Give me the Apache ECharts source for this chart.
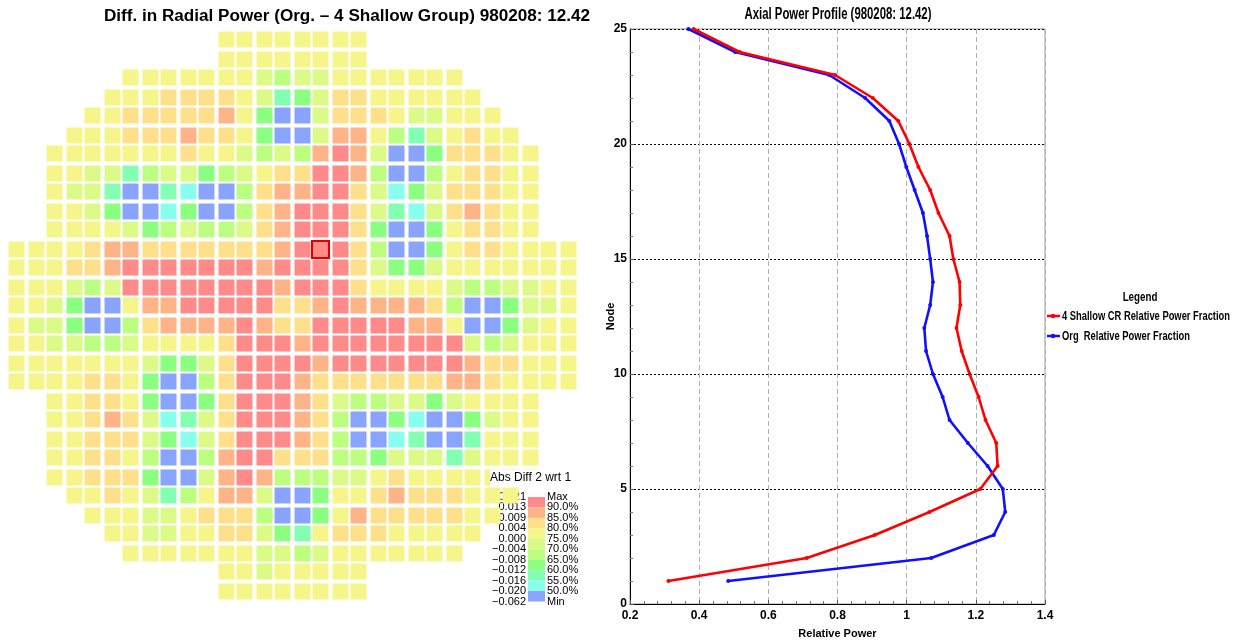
<!DOCTYPE html>
<html>
<head>
<meta charset="utf-8">
<script src="https://cdn.jsdelivr.net/npm/echarts@6/dist/echarts.min.js"></script>
<style>
  html, body { margin: 0; padding: 0; background: #fff; }
  #chart { width: 1248px; height: 644px; }
</style>
</head>
<body>
<div id="chart"></div>
<script>
const _ = null;

// Radial power difference per bundle position (units of 0.001), row 0 = top of the core map
const diffRows = [
  [_,_,_,_,_,_,_,_,_,_,_, 2,2,2,2,2,2,2,2, _,_,_,_,_,_,_,_,_,_,_],
  [_,_,_,_,_,_,_,_,_,_,_, 2,2,2,2,2,2,2,2, _,_,_,_,_,_,_,_,_,_,_],
  [_,_,_,_,_,_, 2,2,2,2,2,2,2,-2,-6,-2,-2,2,2,2,2,2,2,2, _,_,_,_,_,_],
  [_,_,_,_,_, 2,2,2,6,6,6,6,2,-2,-14,-10,-2,6,6,2,2,2,2,2,2, _,_,_,_,_],
  [_,_,_,_, 2,2,6,6,6,6,6,11,2,-10,-30,-30,-2,6,6,6,2,-2,-2,2,2,2, _,_,_,_],
  [_,_,_, 2,2,2,6,6,6,11,6,6,2,-10,-30,-30,-2,11,11,2,-6,-14,-2,2,6,2,2, _,_,_],
  [_,_, 2,2,2,2,2,2,2,6,2,2,-2,-6,-2,-6,11,16,11,-2,-30,-30,-10,6,6,6,2,2, _,_],
  [_,_, 2,2,-2,-2,-14,-6,-2,-2,-10,-6,-2,2,6,6,16,16,11,-6,-30,-30,-6,2,6,6,2,2, _,_],
  [_,_, 2,-2,-2,-14,-30,-30,-14,-18,-30,-30,-6,6,11,11,16,16,6,-2,-18,-10,-2,6,6,6,2,2, _,_],
  [_,_, 2,2,-2,-10,-30,-30,-18,-10,-30,-30,-6,6,11,16,16,16,6,-2,-14,-18,-2,6,11,6,2,2, _,_],
  [_,_, 2,2,2,2,-2,-10,-6,-2,-6,-6,-2,6,11,16,16,16,6,-10,-30,-30,-10,2,6,6,2,2, _,_],
  [2,2,2,2,6,11,11,6,6,6,6,6,6,6,11,16,16,16,6,-6,-30,-30,-10,2,6,6,2,2,2,2],
  [2,2,2,6,6,11,16,16,16,16,16,16,16,11,16,16,16,16,6,-2,-10,-10,-2,2,2,2,2,2,2,2],
  [2,2,2,-2,-6,-2,16,16,16,16,16,16,16,16,11,16,16,16,6,2,2,2,2,-2,-6,-6,-2,-2,2,2],
  [2,2,-2,-10,-30,-30,2,11,11,16,16,16,16,16,6,6,11,16,11,11,11,11,6,-6,-30,-30,-10,-2,-2,2],
  [2,-2,-2,-10,-30,-30,-6,6,11,11,11,11,16,11,6,6,16,16,16,16,16,11,11,2,-30,-30,-10,-2,2,2],
  [2,2,-2,-2,-6,-6,-2,2,2,2,2,6,16,16,16,11,16,16,16,16,16,16,16,16,-2,-6,-2,2,2,2],
  [2,2,2,2,2,2,2,-2,-10,-10,-2,6,16,16,16,16,11,16,16,16,16,16,16,16,11,6,6,2,2,2],
  [2,2,2,2,6,6,2,-10,-30,-30,-6,6,16,16,16,11,6,6,6,6,6,6,6,11,11,6,2,2,2,2],
  [_,_, 2,2,6,6,2,-10,-30,-30,-10,6,16,16,16,11,6,-2,-6,-6,-2,-2,-10,-2,2,2,2,2, _,_],
  [_,_, 2,2,6,11,6,-2,-18,-14,-2,6,16,16,16,11,6,-6,-30,-30,-10,-18,-30,-30,-10,-2,2,2, _,_],
  [_,_, 2,2,6,6,6,-2,-10,-18,-2,6,16,16,16,11,6,-6,-30,-30,-18,-14,-30,-30,-14,2,2,2, _,_],
  [_,_, 2,2,6,6,2,-6,-30,-30,-6,11,16,16,6,6,6,-6,-6,-10,-2,-2,-2,-14,-2,2,2,2, _,_],
  [_,_, 2,2,6,6,6,-10,-30,-30,-2,11,16,11,-6,-6,-6,-2,-2,2,6,2,2,2,2,2,2,2, _,_],
  [_,_,_, 2,2,6,2,-2,-14,-6,2,11,11,-2,-30,-30,-10,2,2,6,11,6,6,6,2,2,2, _,_,_],
  [_,_,_,_, 2,2,2,-2,-2,2,6,6,6,-6,-30,-30,-10,2,11,6,6,6,6,6,2,2, _,_,_,_],
  [_,_,_,_,_, 2,2,-2,-2,2,2,6,6,-2,-10,-14,2,6,6,6,2,2,2,2,2, _,_,_,_,_],
  [_,_,_,_,_,_, 2,2,2,2,2,2,2,-2,-2,-6,-2,2,2,2,2,2,2,2, _,_,_,_,_,_],
  [_,_,_,_,_,_,_,_,_,_,_, 2,2,-2,2,2,2,2,2, _,_,_,_,_,_,_,_,_,_,_],
  [_,_,_,_,_,_,_,_,_,_,_, 2,2,2,2,2,2,2,2, _,_,_,_,_,_,_,_,_,_,_]
];

// Colour classes of the difference map (low -> high)
const bandEdges  = [-0.062, -0.020, -0.016, -0.012, -0.008, -0.004, 0.000, 0.004, 0.009, 0.013, 0.021];
const bandColors = ['#88a4ff', '#88ffee', '#82ffb2', '#8aff80', '#bcff80', '#dcfa88', '#f5f58a', '#ffe08a', '#ffb488', '#ff8a8a'];
const edgeLabels = ['0.021', '0.013', '0.009', '0.004', '0.000', '\u22120.004', '\u22120.008', '\u22120.012', '\u22120.016', '\u22120.020', '\u22120.062'];
const percentLabels = ['Max', '90.0%', '85.0%', '80.0%', '75.0%', '70.0%', '65.0%', '60.0%', '55.0%', '50.0%', 'Min'];
const selectedCell = [16, 11];

// Axial profile
const nodes = [1,2,3,4,5,6,7,8,9,10,11,12,13,14,15,16,17,18,19,20,21,22,23,24,25];
const shallowPower = [0.311, 0.711, 0.908, 1.066, 1.213, 1.263, 1.259, 1.228, 1.208, 1.182, 1.159, 1.144, 1.155,
                      1.153, 1.135, 1.124, 1.092, 1.068, 1.034, 1.008, 0.976, 0.902, 0.793, 0.517, 0.384];
const orgPower     = [0.484, 1.071, 1.252, 1.285, 1.278, 1.234, 1.177, 1.124, 1.104, 1.076, 1.056, 1.051, 1.068,
                      1.076, 1.068, 1.059, 1.047, 1.023, 0.999, 0.978, 0.950, 0.880, 0.776, 0.504, 0.369];
const seriesNames = ['4 Shallow CR Relative Power Fraction', 'Org  Relative Power Fraction'];
const seriesColors = ['#ff0000', '#1010ff'];

const SANS = '"Liberation Sans", Arial, sans-serif';

const cellData = [];
diffRows.forEach((row, r) => row.forEach((v, c) => {
  if (v !== null) cellData.push([c, r, v / 1000]);
}));

const pieces = bandColors.map((color, i) => ({ gte: bandEdges[i], lt: bandEdges[i + 1], color }));
pieces[pieces.length - 1].lte = bandEdges[bandEdges.length - 1];
delete pieces[pieces.length - 1].lt;

// colour-scale captions beside the piecewise bar
const LEG_TOP = 497, LEG_STEP = 10.45;
const scaleTexts = [];
edgeLabels.forEach((t, k) => scaleTexts.push({
  type: 'text', x: 526, y: LEG_TOP + k * LEG_STEP,
  style: { text: t, font: '11px ' + SANS, fill: '#000', align: 'right', verticalAlign: 'middle' }
}));
percentLabels.forEach((t, k) => scaleTexts.push({
  type: 'text', x: 547, y: LEG_TOP + k * LEG_STEP,
  style: { text: t, font: '11px ' + SANS, fill: '#000', align: 'left', verticalAlign: 'middle' }
}));

// condensed bold legend for the axial profile
const LINE_LEG_X = 1047, LINE_LEG_Y = 316, LINE_LEG_STEP = 20;
const lineLegend = [];
seriesNames.forEach((name, k) => {
  const y = LINE_LEG_Y + k * LINE_LEG_STEP;
  lineLegend.push(
    { type: 'line', shape: { x1: LINE_LEG_X, y1: y, x2: LINE_LEG_X + 13, y2: y },
      style: { stroke: seriesColors[k], lineWidth: 2.5 } },
    { type: 'circle', shape: { cx: LINE_LEG_X + 6, cy: y, r: 2.2 }, style: { fill: seriesColors[k] } },
    { type: 'text', x: LINE_LEG_X + 15, y: y, scaleX: 0.72,
      style: { text: name, font: 'bold 13px ' + SANS, fill: '#000', align: 'left', verticalAlign: 'middle' } }
  );
});

function cellRect(params, api) {
  const col = api.value(0), row = api.value(1);
  const c = api.coord([col, row]);
  const pitch = api.size([1, 1]);
  const w = pitch[0] - 3, h = pitch[1] - 3;
  // bundles pair up into control cells: odd columns/rows sit one pixel further on
  const x = c[0] - w / 2 + (col % 2) - 0.5;
  const y = c[1] - h / 2 + (row % 2) - 0.5;
  return { type: 'rect', shape: { x, y, width: w, height: h }, style: { fill: api.visual('color') } };
}

function selectedRect(params, api) {
  const col = api.value(0), row = api.value(1);
  const c = api.coord([col, row]);
  const pitch = api.size([1, 1]);
  const w = pitch[0] - 2, h = pitch[1] - 2;
  const x = c[0] - w / 2 + (col % 2) - 0.5;
  const y = c[1] - h / 2 + (row % 2) - 0.5;
  return { type: 'rect', shape: { x, y, width: w, height: h }, style: { fill: null, stroke: '#e00000', lineWidth: 2 } };
}

const axisText = { fontFamily: SANS, fontWeight: 'bold', fontSize: 12, color: '#000' };

const option = {
  animation: false,
  backgroundColor: '#fff',
  grid: [
    { left: 7.5, top: 30.5, width: 570, height: 570, show: false },
    { left: 630, top: 29, width: 415, height: 576, show: true, borderColor: '#9a9a9a', borderWidth: 1, backgroundColor: '#fff' }
  ],
  xAxis: [
    { gridIndex: 0, type: 'value', min: -0.5, max: 29.5, show: false },
    {
      gridIndex: 1, type: 'value', min: 0.2, max: 1.4, interval: 0.2,
      name: 'Relative Power', nameLocation: 'middle', nameGap: 24, nameMoveOverlap: false,
      nameTextStyle: Object.assign({}, axisText, { fontSize: 11 }),
      axisLine: { lineStyle: { color: '#000', width: 1 } },
      axisTick: { inside: true, length: 4, lineStyle: { color: '#555' } },
      minorTick: { show: true, splitNumber: 5, length: 3, lineStyle: { color: '#777' } },
      axisLabel: Object.assign({ margin: 6 }, axisText),
      splitLine: { show: true, lineStyle: { color: '#b0b0b0', type: [5, 3], width: 1 } }
    }
  ],
  yAxis: [
    { gridIndex: 0, type: 'value', min: -0.5, max: 29.5, inverse: true, show: false },
    {
      gridIndex: 1, type: 'value', min: 0, max: 25, interval: 5,
      name: 'Node', nameLocation: 'middle', nameGap: 14, nameRotate: 90, nameMoveOverlap: false,
      nameTextStyle: Object.assign({}, axisText, { fontSize: 11 }),
      axisLine: { lineStyle: { color: '#000', width: 1 } },
      axisTick: { inside: true, length: 4, lineStyle: { color: '#555' } },
      minorTick: { show: true, splitNumber: 5, length: 3, lineStyle: { color: '#777' } },
      axisLabel: Object.assign({ margin: 3 }, axisText),
      splitLine: { show: true, lineStyle: { color: '#000', type: [2, 2], width: 1 } }
    }
  ],
  visualMap: {
    type: 'piecewise',
    seriesIndex: 0,
    dimension: 2,
    pieces,
    orient: 'vertical',
    left: 528, top: LEG_TOP,
    itemWidth: 17, itemHeight: LEG_STEP, itemGap: 0,
    itemSymbol: 'rect',
    showLabel: false,
    selectedMode: false,
    padding: 0,
    textGap: 0
  },
  graphic: [
    {
      type: 'text', x: 347, y: 17, scaleX: 1.07,
      style: { text: 'Diff. in Radial Power (Org. \u2013 4 Shallow Group) 980208: 12.42',
               font: 'bold 16px ' + SANS, fill: '#000', align: 'center', verticalAlign: 'middle' }
    },
    {
      type: 'text', x: 838, y: 15, scaleX: 0.71,
      style: { text: 'Axial Power Profile (980208: 12.42)',
               font: 'bold 16px ' + SANS, fill: '#000', align: 'center', verticalAlign: 'middle' }
    },
    {
      type: 'text', x: 1140, y: 297, scaleX: 0.75,
      style: { text: 'Legend', font: 'bold 13px ' + SANS, fill: '#000', align: 'center', verticalAlign: 'middle' }
    },
    {
      type: 'text', x: 490, y: 478, z: 10,
      style: { text: 'Abs Diff 2 wrt 1', font: '12px ' + SANS, fill: '#000', align: 'left', verticalAlign: 'middle',
               backgroundColor: '#fff', padding: [2, 2, 2, 0] }
    }
  ].concat(scaleTexts, lineLegend),
  series: [
    {
      type: 'custom', name: 'Abs Diff 2 wrt 1',
      xAxisIndex: 0, yAxisIndex: 0,
      renderItem: cellRect,
      encode: { x: 0, y: 1 },
      data: cellData,
      z: 1
    },
    {
      type: 'custom', name: 'selected',
      xAxisIndex: 0, yAxisIndex: 0,
      renderItem: selectedRect,
      encode: { x: 0, y: 1 },
      data: [selectedCell],
      z: 2
    },
    {
      type: 'line', name: seriesNames[0],
      xAxisIndex: 1, yAxisIndex: 1,
      data: nodes.map((n, i) => [shallowPower[i], n]),
      symbol: 'circle', symbolSize: 4,
      lineStyle: { color: seriesColors[0], width: 2.6 },
      itemStyle: { color: seriesColors[0] },
      z: 4
    },
    {
      type: 'line', name: seriesNames[1],
      xAxisIndex: 1, yAxisIndex: 1,
      data: nodes.map((n, i) => [orgPower[i], n]),
      symbol: 'circle', symbolSize: 4,
      lineStyle: { color: seriesColors[1], width: 2.6 },
      itemStyle: { color: seriesColors[1] },
      z: 3
    }
  ]
};

const chart = echarts.init(document.getElementById('chart'), null, { renderer: 'canvas' });
chart.setOption(option);
</script>
</body>
</html>
